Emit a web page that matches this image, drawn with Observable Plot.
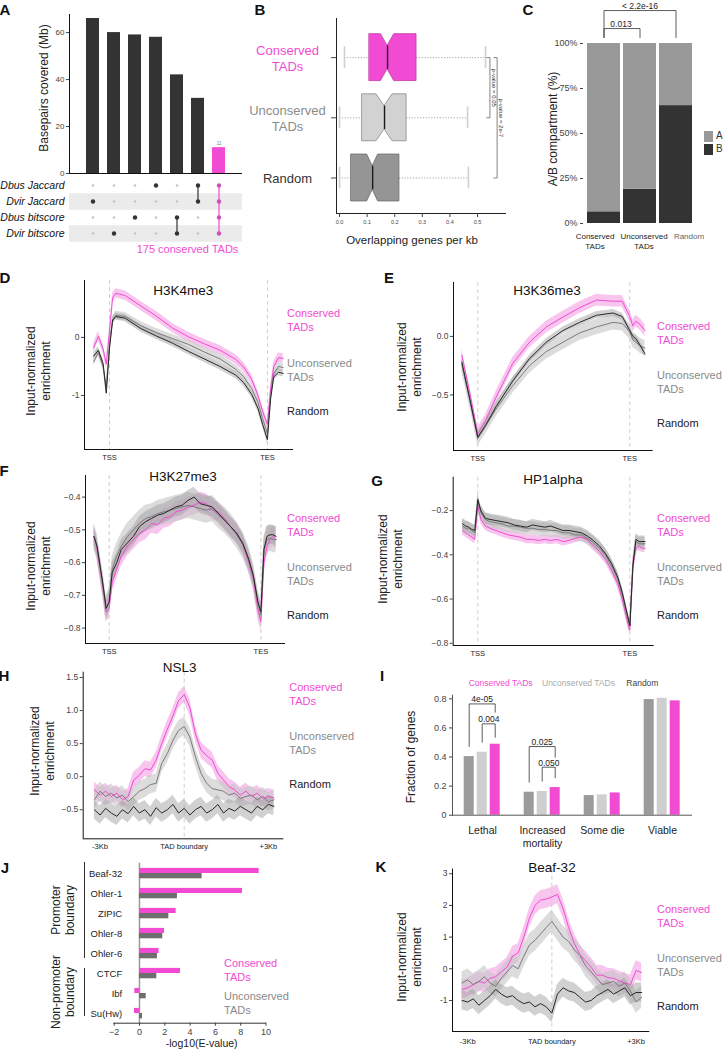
<!DOCTYPE html>
<html><head><meta charset="utf-8">
<script src="https://cdn.jsdelivr.net/npm/d3@7"></script>
<script src="https://cdn.jsdelivr.net/npm/@observablehq/plot@0.6"></script>
<style>
body{margin:0;background:#fff;}
#fig{position:relative;width:724px;height:1052px;overflow:hidden;font-family:"Liberation Sans",Arial,sans-serif;background:#fff;}
</style></head><body><div id="fig"></div>
<script>
// ================= DATA =================
// A: upset
const upsetCols = ["1","2","3","4","5","6","7"];
const upsetMb = [66, 60, 59, 58, 42, 32, 11];
const upsetSets = ["Dbus Jaccard","Dvir Jaccard","Dbus bitscore","Dvir bitscore"];
const upsetMembers = [["Dvir Jaccard"],["Dvir bitscore"],["Dbus bitscore"],["Dbus Jaccard"],["Dbus bitscore","Dvir bitscore"],["Dbus Jaccard","Dvir Jaccard"],["Dbus Jaccard","Dvir Jaccard","Dbus bitscore","Dvir bitscore"]];
// B: boxplots (Random, Unconserved, Conserved)
const boxGroups = ["Random","Unconserved\nTADs","Conserved\nTADs"];
const boxLo = [0.0, 0.0, 0.018];
const boxQ1 = [0.043, 0.083, 0.109];
const boxMed = [0.120, 0.163, 0.174];
const boxQ3 = [0.217, 0.243, 0.279];
const boxHi = [0.467, 0.464, 0.529];
const boxNotch = [0.020, 0.029, 0.024];
const boxPvals = [{from:2, to:1, label:"p-value = 0.05"}, {from:2, to:0, label:"p-value = 2e-7"}];
// C: A/B compartments
const abGroups = ["Conserved\nTADs","Unconserved\nTADs","Random"];
const abB = [0.065, 0.19, 0.655];
const abA = [0.935, 0.81, 0.345];
// D-H, K: profiles
const xsD = [-0.1,-0.07,-0.04,-0.02,0,0.02,0.04,0.1,0.2,0.3,0.4,0.5,0.6,0.7,0.8,0.85,0.9,0.94,0.97,1.0,1.02,1.04,1.07,1.1];
const consD = [-0.18,0.02,-0.2,-0.46,0.1,0.68,0.76,0.72,0.54,0.36,0.16,0.01,-0.11,-0.22,-0.38,-0.51,-0.72,-1.0,-1.28,-1.5,-0.9,-0.5,-0.35,-0.36];
const uncD = [-0.42,-0.26,-0.5,-0.86,-0.12,0.28,0.38,0.36,0.2,0.08,-0.02,-0.12,-0.25,-0.37,-0.55,-0.68,-0.88,-1.12,-1.4,-1.66,-1.0,-0.62,-0.5,-0.52];
const randD = [-0.32,-0.22,-0.45,-0.96,-0.2,0.3,0.36,0.33,0.15,0.02,-0.1,-0.24,-0.37,-0.5,-0.65,-0.78,-0.98,-1.22,-1.5,-1.76,-1.06,-0.68,-0.6,-0.62];
const xsE = [-0.105,-0.05,0,0.05,0.12,0.23,0.34,0.45,0.56,0.67,0.78,0.89,0.95,1.0,1.02,1.04,1.07,1.1];
const consE = [-0.16,-0.5,-0.83,-0.72,-0.52,-0.23,-0.05,0.08,0.165,0.245,0.31,0.3,0.3,0.17,0.09,0.13,0.1,0.05];
const uncE = [-0.24,-0.56,-0.87,-0.77,-0.62,-0.42,-0.25,-0.13,-0.05,0.03,0.08,0.12,0.11,0.04,-0.03,-0.05,-0.08,-0.1];
const randE = [-0.22,-0.55,-0.86,-0.76,-0.6,-0.38,-0.19,-0.05,0.05,0.12,0.18,0.2,0.17,0.05,0.0,-0.02,-0.08,-0.15];
const xsFG = [-0.1,-0.08,-0.06,-0.04,-0.02,0,0.02,0.05,0.08,0.12,0.16,0.2,0.24,0.28,0.32,0.36,0.4,0.44,0.48,0.52,0.56,0.6,0.64,0.68,0.72,0.76,0.8,0.84,0.88,0.92,0.95,0.98,1.0,1.02,1.04,1.06,1.08,1.1];
const consF = [-0.52,-0.56,-0.62,-0.68,-0.75,-0.74,-0.66,-0.62,-0.58,-0.55,-0.53,-0.51,-0.5,-0.48,-0.485,-0.465,-0.46,-0.445,-0.44,-0.43,-0.425,-0.415,-0.42,-0.44,-0.445,-0.465,-0.49,-0.51,-0.545,-0.6,-0.65,-0.74,-0.78,-0.6,-0.55,-0.53,-0.52,-0.53];
const uncF = [-0.52,-0.55,-0.61,-0.67,-0.74,-0.72,-0.62,-0.58,-0.55,-0.52,-0.5,-0.48,-0.465,-0.46,-0.45,-0.445,-0.44,-0.435,-0.43,-0.425,-0.43,-0.435,-0.44,-0.435,-0.455,-0.47,-0.49,-0.515,-0.545,-0.59,-0.64,-0.72,-0.76,-0.56,-0.53,-0.525,-0.53,-0.53];
const randF = [-0.52,-0.55,-0.61,-0.67,-0.74,-0.72,-0.63,-0.6,-0.56,-0.54,-0.52,-0.49,-0.475,-0.465,-0.455,-0.45,-0.44,-0.43,-0.425,-0.41,-0.4,-0.42,-0.425,-0.43,-0.45,-0.47,-0.49,-0.51,-0.54,-0.59,-0.64,-0.72,-0.75,-0.56,-0.52,-0.515,-0.515,-0.52];
const consG = [-0.29,-0.3,-0.31,-0.32,-0.33,-0.18,-0.24,-0.27,-0.28,-0.29,-0.3,-0.31,-0.315,-0.32,-0.33,-0.33,-0.335,-0.33,-0.335,-0.33,-0.34,-0.335,-0.325,-0.32,-0.33,-0.36,-0.385,-0.42,-0.47,-0.53,-0.6,-0.69,-0.74,-0.46,-0.37,-0.36,-0.37,-0.37];
const uncG = [-0.27,-0.28,-0.28,-0.29,-0.3,-0.16,-0.21,-0.24,-0.25,-0.255,-0.26,-0.27,-0.27,-0.275,-0.28,-0.28,-0.285,-0.285,-0.29,-0.29,-0.3,-0.3,-0.31,-0.31,-0.325,-0.345,-0.37,-0.4,-0.45,-0.51,-0.58,-0.67,-0.72,-0.44,-0.34,-0.35,-0.35,-0.35];
const randG = [-0.26,-0.27,-0.275,-0.285,-0.29,-0.15,-0.2,-0.235,-0.24,-0.245,-0.25,-0.255,-0.265,-0.27,-0.275,-0.265,-0.27,-0.275,-0.27,-0.28,-0.29,-0.29,-0.295,-0.3,-0.315,-0.335,-0.36,-0.395,-0.44,-0.5,-0.57,-0.66,-0.72,-0.45,-0.33,-0.34,-0.34,-0.34];
const xsHK = [-3.2,-3.0,-2.8,-2.6,-2.4,-2.2,-2.0,-1.8,-1.6,-1.4,-1.2,-1.0,-0.8,-0.6,-0.4,-0.2,0,0.2,0.4,0.6,0.8,1.0,1.2,1.4,1.6,1.8,2.0,2.2,2.4,2.6,2.8,3.0,3.2];
const consH = [-0.2,-0.28,-0.22,-0.3,-0.25,-0.35,-0.3,-0.05,0.02,0.12,0.1,0.25,0.5,0.72,0.92,1.15,1.24,1.05,0.65,0.4,0.32,0.25,0.05,-0.05,-0.15,-0.2,-0.28,-0.22,-0.3,-0.25,-0.33,-0.3,-0.32];
const uncH = [-0.35,-0.22,-0.3,-0.25,-0.32,-0.28,-0.38,-0.3,-0.22,-0.18,-0.12,-0.1,0.2,0.35,0.55,0.7,0.76,0.6,0.3,0.05,-0.1,-0.18,-0.2,-0.22,-0.28,-0.25,-0.33,-0.3,-0.28,-0.35,-0.3,-0.38,-0.35];
const randH = [-0.5,-0.58,-0.48,-0.55,-0.6,-0.5,-0.56,-0.45,-0.55,-0.5,-0.6,-0.47,-0.55,-0.5,-0.42,-0.55,-0.48,-0.58,-0.5,-0.45,-0.55,-0.5,-0.42,-0.55,-0.48,-0.52,-0.45,-0.5,-0.55,-0.45,-0.5,-0.42,-0.45];
const consK = [-0.65,-0.6,-0.5,-0.4,-0.45,-0.3,-0.25,-0.1,0.05,0.4,0.5,1.0,1.6,2.0,2.17,2.2,2.27,2.35,1.9,1.3,0.8,0.45,0.25,0.05,-0.2,-0.2,-0.28,-0.3,-0.38,-0.45,-0.5,-0.05,-0.12];
const uncK = [-0.45,-0.35,-0.5,-0.4,-0.25,-0.45,-0.55,-0.3,-0.1,0.1,0.0,0.4,0.75,0.9,1.1,1.3,1.5,1.25,1.0,0.86,0.6,0.42,0.1,-0.1,-0.3,-0.5,-0.45,-0.4,-0.55,-0.45,-0.7,-1.05,-0.9];
const randK = [-1.0,-1.05,-0.95,-1.15,-1.0,-0.85,-0.65,-0.8,-0.9,-0.85,-1.0,-1.1,-1.05,-1.2,-1.1,-1.2,-1.4,-0.8,-0.6,-0.7,-0.75,-0.9,-1.05,-1.0,-0.85,-0.75,-0.65,-0.8,-0.7,-0.6,-0.85,-0.75,-0.75];
// I: phenotypes
const phenoCats = ["Lethal","Increased\nmortality","Some die","Viable"];
const phenoTypes = ["Random","Unconserved","Conserved"];
const phenoRandom = [0.403, 0.158, 0.135, 0.795];
const phenoUncons = [0.433, 0.163, 0.140, 0.804];
const phenoCons = [0.488, 0.190, 0.153, 0.786];
const phenoTests = [
  {cat:"Lethal", from:"Random", to:"Conserved", label:"4e-05"},
  {cat:"Lethal", from:"Unconserved", to:"Conserved", label:"0.004"},
  {cat:"Increased\nmortality", from:"Random", to:"Conserved", label:"0.025"},
  {cat:"Increased\nmortality", from:"Unconserved", to:"Conserved", label:"0.050"}];
// J: motifs
const motifs = ["Beaf-32","Ohler-1","ZIPIC","Ohler-8","Ohler-6","CTCF","Ibf","Su(Hw)"];
const motifCons = [9.46, 8.14, 2.9, 1.98, 1.55, 3.24, -0.37, -0.4];
const motifUncons = [4.95, 3.0, 2.32, 1.84, 1.42, 1.37, 0.53, 0.24];

// ================= HELPERS =================
const PINK = "#f24bd3", PINK_BAND = "#f5a6e6", GREY = "#7a7a7a", GREY_BAND = "#c4c4c4", DARK = "#262626", DARK_BAND = "#9a9a9a";
const FONT = "Liberation Sans, Arial, Helvetica, sans-serif";
const STYLE = {fontFamily: FONT, background: "transparent", overflow: "visible", color: "#444"};
const fig = document.getElementById("fig");
function put(svg, left, top) {
  svg.style.position = "absolute"; svg.style.left = left + "px"; svg.style.top = top + "px";
  fig.appendChild(svg);
}
function txt(s, x, y, o = {}) {
  const d = document.createElement("div");
  d.textContent = s;
  Object.assign(d.style, {position: "absolute", left: x + "px", top: y + "px", whiteSpace: "pre",
    fontSize: (o.size || 11) + "px", lineHeight: o.lh ? o.lh + "px" : "1.2", color: o.color || "#222",
    fontWeight: o.bold ? "bold" : "normal", fontStyle: o.italic ? "italic" : "normal",
    textAlign: o.anchor === "start" ? "left" : o.anchor === "end" ? "right" : "center"});
  const ax = o.anchor === "start" ? "0" : o.anchor === "end" ? "-100%" : "-50%";
  d.style.transform = `translate(${ax},-50%)` + (o.rotate ? ` rotate(${o.rotate}deg)` : "");
  fig.appendChild(d);
}
function box(x, y, w, h, c) {
  const d = document.createElement("div");
  Object.assign(d.style, {position: "absolute", left: x + "px", top: y + "px", width: w + "px", height: h + "px", background: c});
  fig.appendChild(d);
}

// ================= A =================
{
  const data = upsetCols.map((c, i) => ({col: c, mb: upsetMb[i], cons: i === upsetCols.length - 1}));
  put(Plot.plot({
    width: 250, height: 180, marginLeft: 69, marginRight: 8, marginTop: 14, marginBottom: 7, style: STYLE,
    x: {type: "band", domain: upsetCols, paddingInner: 0.395, paddingOuter: 0.72, axis: null}, y: {domain: [0, 67.7]},
    color: {type: "identity"},
    marks: [
      Plot.barY(data, {x: "col", y: "mb", fill: d => d.cons ? PINK : "#333333"}),
      Plot.text(data.filter(d => d.cons), {x: "col", y: "mb", text: d => String(d.mb), dy: -4, fontSize: 5, fill: "#888"}),
      Plot.ruleY([0], {stroke: "#111"}),
      Plot.frame({anchor: "left", stroke: "#111"}),
      Plot.axisY({ticks: [0, 20, 40, 60], tickSize: 3, tickPadding: 2, fontSize: 8, label: null})
    ]}), 0, 0);
  const cells = upsetCols.flatMap((c, i) => upsetSets.map(s => ({col: c, set: s, on: upsetMembers[i].includes(s), cons: i === upsetCols.length - 1})));
  put(Plot.plot({
    width: 250, height: 90, marginLeft: 69, marginRight: 8, marginTop: 5.6, marginBottom: 17.6, style: STYLE,
    x: {type: "band", domain: upsetCols, paddingInner: 0.395, paddingOuter: 0.72, axis: null},
    y: {type: "band", domain: upsetSets, padding: 0},
    marks: [
      Plot.ruleY(["Dvir Jaccard", "Dvir bitscore"], {y: d => d, stroke: "#ebebeb", strokeWidth: 16.7}),
      Plot.dot(cells.filter(d => !d.on), {x: "col", y: "set", r: 1.3, fill: "#c4c4c4"}),
      Plot.line(cells.filter(d => d.on && !d.cons), {x: "col", y: "set", z: "col", stroke: "#333", strokeWidth: 1.2}),
      Plot.line(cells.filter(d => d.on && d.cons), {x: "col", y: "set", z: "col", stroke: PINK, strokeWidth: 1.2}),
      Plot.dot(cells.filter(d => d.on && !d.cons), {x: "col", y: "set", r: 2.2, fill: "#333"}),
      Plot.dot(cells.filter(d => d.on && d.cons), {x: "col", y: "set", r: 2.2, fill: "#d050b8"}),
      Plot.axisY({tickSize: 0, tickPadding: 5, fontSize: 10.5, fontStyle: "italic", fill: "#111", label: null})
    ]}), 0, 170);
  txt("Basepairs covered (Mb)", 44, 88, {size: 12, rotate: -90});
  txt("175 conserved TADs", 187.5, 249.5, {size: 11, color: PINK});
}

// ================= B =================
{
  const H = 0.39, W = 0.5, CAP = 0.18;
  const fills = ["#959595", "#d2d2d2", PINK], strokes = ["#6d6d6d", "#8a8a8a", "#c23aa6"];
  const labelColors = ["#333", "#8c8c8c", PINK];
  const marks = [];
  boxGroups.forEach((g, i) => {
    const poly = [
      {x: boxQ1[i], y1: i - H, y2: i + H},
      {x: boxMed[i] - boxNotch[i], y1: i - H, y2: i + H},
      {x: boxMed[i], y1: i - H * W, y2: i + H * W},
      {x: boxMed[i] + boxNotch[i], y1: i - H, y2: i + H},
      {x: boxQ3[i], y1: i - H, y2: i + H}];
    marks.push(
      Plot.ruleY([{a: boxLo[i], b: boxQ1[i]}, {a: boxQ3[i], b: boxHi[i]}], {y: () => i, x1: "a", x2: "b", stroke: "#9a9a9a", strokeDasharray: "1.2,1.6", strokeWidth: 0.9}),
      Plot.ruleX([boxLo[i], boxHi[i]], {x: d => d, y1: i - CAP, y2: i + CAP, stroke: "#cfcfcf", strokeWidth: 1.6}),
      Plot.areaY(poly, {x: "x", y1: "y1", y2: "y2", fill: fills[i], stroke: strokes[i], strokeWidth: 0.8}),
      Plot.ruleX([boxMed[i]], {x: d => d, y1: i - H * W, y2: i + H * W, stroke: "#1a1a1a", strokeWidth: 1.4}),
      Plot.text([g], {y: () => i, text: d => d, frameAnchor: "left", dx: -49, textAnchor: "middle", fontSize: 13, lineHeight: 1.23, fill: labelColors[i]})
    );
  });
  const bx = [0.545, 0.571], lx = [0.559, 0.583];
  boxPvals.forEach((p, k) => {
    marks.push(
      Plot.line([{x: bx[k] - 0.012, y: p.from}, {x: bx[k], y: p.from}, {x: bx[k], y: p.to}, {x: bx[k] - 0.012, y: p.to}], {x: "x", y: "y", stroke: "#666", strokeWidth: 0.8}),
      Plot.text([p], {x: () => lx[k], y: d => (d.from + d.to) / 2, text: "label", rotate: 90, fontSize: 6, fill: "#333"})
    );
  });
  marks.push(
    Plot.ruleX([-0.011], {stroke: "#222"}),
    Plot.ruleY([-0.59], {stroke: "#222"}),
    Plot.axisY({ticks: [0, 1, 2], tickFormat: () => "", tickSize: 5, label: null}),
    Plot.axisX({ticks: [0, 0.1, 0.2, 0.3, 0.4, 0.5], tickFormat: d3.format(".1f"), tickSize: 4, tickPadding: 3, fontSize: 5.5, label: null})
  );
  put(Plot.plot({
    width: 280, height: 245, marginLeft: 96, marginRight: 14, marginTop: 18, marginBottom: 32, style: STYLE,
    x: {domain: [-0.011, 0.605]}, y: {domain: [-0.59, 2.65]}, marks}), 240, 0);
  txt("Overlapping genes per kb", 412, 241, {size: 11.5});
}

// ================= C =================
{
  const data = [...abGroups.map((g, i) => ({g, comp: "B", f: abB[i]})), ...abGroups.map((g, i) => ({g, comp: "A", f: abA[i]}))];
  const tests = [{from: abGroups[0], to: abGroups[1], label: "0.013", top: 1.083}, {from: abGroups[0], to: abGroups[2], label: "< 2.2e-16", top: 1.183}];
  const leg = 1.033;
  const pts = tests.flatMap((t, k) => [{k, g: t.from, v: leg}, {k, g: t.from, v: t.top}, {k, g: t.to, v: t.top}, {k, g: t.to, v: leg}]);
  const labDx = [-9, 4, 13], labFill = ["#222", "#222", "#666"];
  put(Plot.plot({
    width: 224, height: 260, marginLeft: 83, marginRight: 29.2, marginTop: 43, marginBottom: 37, style: STYLE,
    x: {type: "band", domain: abGroups, paddingInner: 0.096, paddingOuter: 0.08, axis: null}, y: {domain: [0, 1]},
    color: {domain: ["A", "B"], range: ["#999999", "#333333"]},
    marks: [
      Plot.barY(data, {x: "g", y: "f", fill: "comp"}),
      Plot.axisY({ticks: [0, 0.25, 0.5, 0.75, 1], tickFormat: d3.format(".0%"), tickSize: 3, tickPadding: 3, fontSize: 9, label: null}),
      ...abGroups.map((g, k) => Plot.text([g], {x: d => d, text: d => d, frameAnchor: "bottom", lineAnchor: "top", dy: 8, dx: labDx[k], fontSize: 8, lineHeight: 1.3, fill: labFill[k]})),
      Plot.line(pts, {x: "g", y: "v", z: "k", stroke: "#333", strokeWidth: 0.8}),
      Plot.text([tests[0]], {x: "from", y: "top", text: "label", dx: 17, dy: -2, lineAnchor: "bottom", fontSize: 8.5, fill: "#222"}),
      Plot.text([tests[1]], {x: () => abGroups[1], y: "top", text: "label", dy: -2, lineAnchor: "bottom", fontSize: 8.5, fill: "#222"})
    ]}), 500, 0);
  txt("A/B compartment (%)", 553, 129, {size: 12, rotate: -90});
  box(704, 130.5, 9, 11, "#999999"); box(704, 143.5, 9, 11, "#333333");
  txt("A", 716, 136, {size: 10, anchor: "start", color: "#333"});
  txt("B", 716, 149, {size: 10, anchor: "start", color: "#333"});
}

// ================= PROFILES =================
function profile(o) {
  const series = [
    {values: o.pink, color: PINK, band: PINK_BAND, op: 0.65, se: o.se[0]},
    {values: o.grey, color: GREY, band: GREY_BAND, op: 0.6, se: o.se[1]},
    {values: o.dark, color: DARK, band: DARK_BAND, op: 0.45, se: o.se[2]}];
  const rows = series.map(s => s.values.map((v, i) => ({x: o.xs[i], v, lo: v - s.se, hi: v + s.se})));
  const marks = [Plot.ruleX(o.vlines, {stroke: "#cfcfcf", strokeDasharray: "4,3"})];
  series.forEach((s, k) => marks.push(Plot.areaY(rows[k], {x: "x", y1: "lo", y2: "hi", fill: s.band, fillOpacity: s.op})));
  series.forEach((s, k) => marks.push(Plot.line(rows[k], {x: "x", y: "v", stroke: s.color, strokeWidth: 1})));
  marks.push(
    Plot.ruleX([o.xDomain[0]], {stroke: "#111"}),
    Plot.ruleY([o.yDomain[0]], {stroke: "#111"}),
    Plot.axisY({ticks: o.yTicks, tickFormat: o.yFmt, tickSize: 3, tickPadding: 2, fontSize: 8.5, label: null}),
    Plot.axisX({ticks: o.xTicks, tickFormat: o.xFmt, tickSize: 0, tickPadding: o.xPad || 5, fontSize: 7.5, fill: "#222", label: null}));
  put(Plot.plot({width: o.width, height: o.height, marginLeft: o.ml, marginRight: o.mr, marginTop: o.mt, marginBottom: o.mb,
    style: STYLE, x: {domain: o.xDomain}, y: {domain: o.yDomain}, marks}), o.left, o.top);
  txt(o.title, o.tx, o.ty, {size: 13.5, color: "#111"});
  txt("Input-normalized\nenrichment", o.ax, o.ay, {size: 12, lh: 15, rotate: -90});
  txt("Conserved\nTADs", o.lx, o.ly, {size: 11, lh: 14, anchor: "start", color: PINK});
  txt("Unconserved\nTADs", o.lx, o.ly + 49.4, {size: 11, lh: 14, anchor: "start", color: "#8a8a8a"});
  txt("Random", o.lx, o.ly + 91.4, {size: 11, anchor: "start", color: "#222"});
}
const tssFmt = d => d === 0 ? "TSS" : "TES";
const kbFmt = d => d === 0 ? "TAD boundary" : d < 0 ? "-3Kb" : "+3Kb";
const f1 = d3.format(".1f");
profile({xs: xsD, pink: consD, grey: uncD, dark: randD, se: [0.08, 0.07, 0.06],
  xDomain: [-0.158, 1.165], yDomain: [-1.93, 0.98], yTicks: [-1, 0], yFmt: d => String(d), xTicks: [0, 1], xFmt: tssFmt, vlines: [0, 1],
  left: 0, top: 265, width: 300, height: 200, ml: 84, mr: 7, mt: 15, mb: 16,
  title: "H3K4me3", tx: 183.3, ty: 290.7, ax: 39, ay: 371, lx: 287, ly: 320.3});
profile({xs: xsE, pink: consE, grey: uncE, dark: randE, se: [0.05, 0.065, 0.03],
  xDomain: [-0.16, 1.154], yDomain: [-0.974, 0.46], yTicks: [-0.5, 0], yFmt: f1, xTicks: [0, 1], xFmt: tssFmt, vlines: [0, 1],
  left: 362, top: 267, width: 300, height: 200, ml: 91, mr: 9.3, mt: 15, mb: 17,
  title: "H3K36me3", tx: 547, ty: 290.5, ax: 410, ay: 367, lx: 657, ly: 333});
profile({xs: xsFG, pink: consF, grey: uncF, dark: randF, se: [0.03, 0.04, 0.03],
  xDomain: [-0.156, 1.162], yDomain: [-0.847, -0.334], yTicks: [-0.8, -0.7, -0.6, -0.5, -0.4], yFmt: f1, xTicks: [0, 1], xFmt: tssFmt, vlines: [0, 1],
  left: 0, top: 460, width: 300, height: 200, ml: 85, mr: 15, mt: 15, mb: 17,
  title: "H3K27me3", tx: 183, ty: 477, ax: 39, ay: 566, lx: 287, ly: 525});
profile({xs: xsFG, pink: consG, grey: uncG, dark: randG, se: [0.02, 0.03, 0.025],
  xDomain: [-0.162, 1.16], yDomain: [-0.81, -0.049], yTicks: [-0.8, -0.6, -0.4, -0.2], yFmt: f1, xTicks: [0, 1], xFmt: tssFmt, vlines: [0, 1],
  left: 362, top: 462, width: 300, height: 200, ml: 90.7, mr: 8.3, mt: 14.7, mb: 17,
  title: "HP1alpha", tx: 553, ty: 480, ax: 391, ay: 559, lx: 657, ly: 525});
profile({xs: xsHK, pink: consH, grey: uncH, dark: randH, se: [0.12, 0.14, 0.14],
  xDomain: [-3.6, 3.55], yDomain: [-0.94, 1.58], yTicks: [-0.5, 0, 0.5, 1, 1.5], yFmt: f1, xTicks: [-3, 0, 3], xFmt: kbFmt, vlines: [0],
  left: 0, top: 657, width: 300, height: 200, ml: 82.7, mr: 16.7, mt: 14.7, mb: 18.7,
  title: "NSL3", tx: 179.7, ty: 668.3, ax: 42.5, ay: 751, lx: 289.3, ly: 693.7});
profile({xs: xsHK, pink: consK, grey: uncK, dark: randK, se: [0.3, 0.35, 0.3],
  xDomain: [-3.54, 3.49], yDomain: [-1.98, 3.15], yTicks: [-1, 0, 1, 2, 3], yFmt: d => String(d), xTicks: [-3, 0, 3], xFmt: kbFmt, vlines: [0], xPad: 7,
  left: 362, top: 855, width: 300, height: 197, ml: 90, mr: 12.7, mt: 13.5, mb: 21,
  title: "Beaf-32", tx: 552, ty: 868, ax: 409.5, ay: 957, lx: 657, ly: 915.5});

// ================= I =================
{
  const data = phenoCats.flatMap((c, i) => [
    {c, t: "Random", v: phenoRandom[i]}, {c, t: "Unconserved", v: phenoUncons[i]}, {c, t: "Conserved", v: phenoCons[i]}]);
  const geom = [{top: 0.765, lf: 0.472, lt: 0.708}, {top: 0.628, lf: 0.502, lt: 0.536}, {top: 0.472, lf: 0.227, lt: 0.399}, {top: 0.33, lf: 0.234, lt: 0.257}];
  const br = phenoTests.map((t, k) => ({...t, ...geom[k], k}));
  const pts = br.flatMap(b => [{k: b.k, c: b.cat, t: b.from, v: b.lf}, {k: b.k, c: b.cat, t: b.from, v: b.top}, {k: b.k, c: b.cat, t: b.to, v: b.top}, {k: b.k, c: b.cat, t: b.to, v: b.lt}]);
  put(Plot.plot({
    width: 340, height: 185, marginLeft: 89.3, marginRight: 10, marginTop: 19.7, marginBottom: 45.3, style: STYLE,
    fx: {domain: phenoCats, padding: 0, label: null}, x: {type: "band", domain: phenoTypes, paddingInner: 0.25, paddingOuter: 0.888, axis: null, label: null},
    y: {domain: [0, 0.825], label: null},
    color: {domain: phenoTypes, range: ["#9b9b9b", "#cfcfcf", PINK]},
    marks: [
      Plot.barY(data, {fx: "c", x: "t", y: "v", fill: "t"}),
      Plot.ruleY([0], {stroke: "#555"}),
      Plot.frame({anchor: "left", facetAnchor: "left", stroke: "#555"}),
      Plot.axisY({ticks: [0, 0.2, 0.4, 0.6, 0.8], tickFormat: d => d === 0 ? "0" : d.toFixed(1), tickSize: 3, tickPadding: 3, fontSize: 9, label: null}),
      Plot.axisFx({anchor: "bottom", tickSize: 0, tickPadding: 9, fontSize: 10.5, lineHeight: 1.27, fill: "#222", label: null}),
      Plot.line(pts, {fx: "c", x: "t", y: "v", z: "k", stroke: "#333", strokeWidth: 0.8}),
      Plot.text(br.filter(b => b.from === "Random"), {fx: "cat", x: () => "Unconserved", y: "top", text: "label", dy: -1.5, lineAnchor: "bottom", fontSize: 8.5, fill: "#222"}),
      Plot.text(br.filter(b => b.from !== "Random"), {fx: "cat", x: () => "Unconserved", y: "top", text: "label", dx: 6.6, dy: -1.5, lineAnchor: "bottom", fontSize: 8.5, fill: "#222"})
    ]}), 362, 675);
  txt("Fraction of genes", 411, 757, {size: 12, rotate: -90});
  txt("Conserved TADs", 468.7, 683, {size: 8.5, anchor: "start", color: PINK});
  txt("Unconserved TADs", 542, 683, {size: 8.5, anchor: "start", color: "#aaaaaa"});
  txt("Random", 626.3, 683, {size: 8.5, anchor: "start", color: "#444"});
}

// ================= J =================
{
  const data = motifs.map((m, i) => ({m, c: motifCons[i], u: motifUncons[i]}));
  put(Plot.plot({
    width: 300, height: 197, marginLeft: 113.3, marginRight: 35, marginTop: 7.7, marginBottom: 29.3, style: STYLE,
    x: {domain: [-2.03, 9.96], label: null}, y: {type: "band", domain: motifs, padding: 0, axis: null, label: null},
    marks: [
      Plot.ruleX([0], {stroke: "#9a9a9a", strokeWidth: 1.5}),
      Plot.barX(data, {y: "m", x: "c", fill: PINK, insetTop: 4.9, insetBottom: 10}),
      Plot.barX(data, {y: "m", x: "u", fill: "#6e6e6e", insetTop: 10, insetBottom: 4.7}),
      Plot.frame({anchor: "bottom", stroke: "#333"}),
      Plot.axisX({ticks: [-2, 0, 2, 4, 6, 8, 10], tickSize: 3, tickPadding: 2, fontSize: 9, label: null}),
      Plot.text(data, {y: "m", text: "m", frameAnchor: "left", dx: 8.4, textAnchor: "end", fontSize: 9.5, fill: "#222"})
    ]}), 0, 855);
  txt("-log10(E-value)", 201.7, 1043.3, {size: 10.5});
  box(84, 862, 1, 96, "#333"); box(84, 968, 1, 48, "#333");
  txt("Promoter\nboundary", 62.5, 910, {size: 12, lh: 14, rotate: -90});
  txt("Non-promoter\nboundary", 62.5, 991.7, {size: 12, lh: 14, rotate: -90});
  txt("Conserved\nTADs", 224, 970, {size: 11, lh: 14, anchor: "start", color: PINK});
  txt("Unconserved\nTADs", 224, 1002.5, {size: 11, lh: 14, anchor: "start", color: "#8a8a8a"});
}

// ================= panel letters =================
[["A", 5, 10], ["B", 260, 10], ["C", 528, 10], ["D", 5, 278], ["E", 389, 278], ["F", 4, 471], ["G", 377, 481],
 ["H", 4, 676], ["I", 382, 676], ["J", 5, 868], ["K", 381, 867]].forEach(([l, x, y]) => txt(l, x, y, {size: 15, bold: true, color: "#111"}));
</script></body></html>
